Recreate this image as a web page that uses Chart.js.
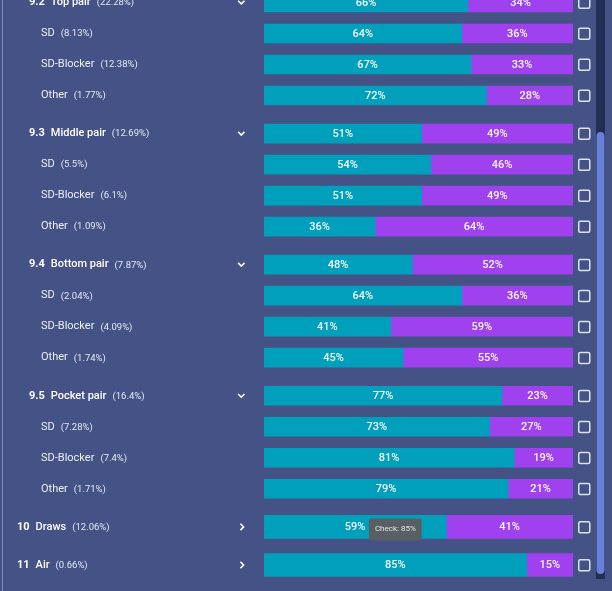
<!DOCTYPE html>
<html>
<head>
  <meta charset="UTF-8">
  <title>Range breakdown</title>
  <script src="https://cdn.jsdelivr.net/npm/chart.js"></script>
  <style>
    html, body {
      margin: 0;
      padding: 0;
      background: #445286;
      overflow: hidden;
    }

    #wrap {
      position: relative;
      width: 612px;
      height: 591px;
    }
  </style>
</head>
<body>
  <div id="wrap">
    <canvas id="rangeChart" width="612" height="591"></canvas>
  </div>

  <script>
    // rows, top to bottom
    const rowCodes  = ['9.2', '', '', '', '9.3', '', '', '', '9.4', '', '', '', '9.5', '', '', '', '10', '11'];
    const rowNames  = ['Top pair', 'SD', 'SD-Blocker', 'Other',
                       'Middle pair', 'SD', 'SD-Blocker', 'Other',
                       'Bottom pair', 'SD', 'SD-Blocker', 'Other',
                       'Pocket pair', 'SD', 'SD-Blocker', 'Other',
                       'Draws', 'Air'];
    // open = expanded group, sub = child row, closed = collapsed group
    const rowKinds  = ['open', 'sub', 'sub', 'sub',
                       'open', 'sub', 'sub', 'sub',
                       'open', 'sub', 'sub', 'sub',
                       'open', 'sub', 'sub', 'sub',
                       'closed', 'closed'];
    const rowShares = [22.28, 8.13, 12.38, 1.77, 12.69, 5.5, 6.1, 1.09, 7.87, 2.04, 4.09, 1.74, 16.4, 7.28, 7.4, 1.71, 12.06, 0.66];

    // series (percent of each row)
    const checkPct = [66, 64, 67, 72, 51, 54, 51, 36, 48, 64, 41, 45, 77, 73, 81, 79, 59, 85];
    const betPct   = [34, 36, 33, 28, 49, 46, 49, 64, 52, 36, 59, 55, 23, 27, 19, 21, 41, 15];

    const tooltipLabel = 'Check';
    const tooltipRow = 17;

    const BG = '#445286';
    const TEAL = '#00a0bd';
    const PURPLE = '#a041f0';
    const FONT = 'Roboto, "Noto Sans", sans-serif';

    // extra space before each group header, in row units
    const GROUP_GAP = 0.229;
    const rowPos = [];
    rowKinds.forEach((kind, i) => {
      rowPos.push(i === 0 ? 0 : rowPos[i - 1] + 1 + (kind === 'sub' ? 0 : GROUP_GAP));
    });

    function points(values, keep) {
      return values
        .map((v, i) => ({ x: v, y: rowPos[i], row: i }))
        .filter(p => keep(p.row));
    }
    const isThin = i => rowKinds[i] !== 'closed';
    const isWide = i => rowKinds[i] === 'closed';

    function chevronDown(ctx, cx, cy) {
      ctx.beginPath();
      ctx.moveTo(cx - 3.2, cy - 1.8);
      ctx.lineTo(cx, cy + 1.4);
      ctx.lineTo(cx + 3.2, cy - 1.8);
      ctx.stroke();
    }

    function chevronRight(ctx, cx, cy) {
      ctx.beginPath();
      ctx.moveTo(cx - 1.6, cy - 3.2);
      ctx.lineTo(cx + 1.6, cy);
      ctx.lineTo(cx - 1.6, cy + 3.2);
      ctx.stroke();
    }

    function roundRect(ctx, x, y, w, h, r) {
      ctx.beginPath();
      ctx.moveTo(x + r, y);
      ctx.arcTo(x + w, y, x + w, y + h, r);
      ctx.arcTo(x + w, y + h, x, y + h, r);
      ctx.arcTo(x, y + h, x, y, r);
      ctx.arcTo(x, y, x + w, y, r);
      ctx.closePath();
    }

    const rowDecor = {
      id: 'rowDecor',
      beforeDraw(chart) {
        const { ctx, width, height } = chart;
        ctx.save();
        ctx.fillStyle = BG;
        ctx.fillRect(0, 0, width, height);
        ctx.restore();
      },
      afterDatasetsDraw(chart) {
        const { ctx } = chart;
        ctx.save();
        ctx.font = '500 11px ' + FONT;
        ctx.fillStyle = '#f4f8fb';
        ctx.textAlign = 'center';
        ctx.textBaseline = 'middle';
        chart.data.datasets.forEach((ds, d) => {
          chart.getDatasetMeta(d).data.forEach((bar, j) => {
            const cx = (bar.x + bar.base) / 2;
            ctx.fillText(ds.data[j].x + '%', cx, bar.y + 0.5);
          });
        });
        ctx.restore();
      },
      afterDraw(chart) {
        const { ctx, scales } = chart;
        const yScale = scales.y;
        ctx.save();
        ctx.textBaseline = 'middle';
        ctx.textAlign = 'left';

        rowNames.forEach((name, i) => {
          const y = yScale.getPixelForValue(rowPos[i]);
          const kind = rowKinds[i];
          let x;
          if (kind === 'sub') {
            x = 41;
            ctx.font = '400 11px ' + FONT;
            ctx.fillStyle = '#eef0f7';
            ctx.fillText(name, x, y);
            x += ctx.measureText(name).width + 6;
          } else {
            x = kind === 'open' ? 29 : 17;
            ctx.font = '700 11px ' + FONT;
            ctx.fillStyle = '#ffffff';
            ctx.fillText(rowCodes[i], x, y);
            x += ctx.measureText(rowCodes[i]).width + 6;
            ctx.font = '500 11px ' + FONT;
            ctx.fillText(name, x, y);
            x += ctx.measureText(name).width + 6;
          }
          ctx.font = '400 9.5px ' + FONT;
          ctx.fillStyle = '#e6e9f3';
          ctx.fillText('(' + rowShares[i] + '%)', x, y + 0.5);

          // chevrons
          ctx.strokeStyle = '#ffffff';
          ctx.lineWidth = 1.6;
          if (kind === 'open') chevronDown(ctx, 241.3, y);
          if (kind === 'closed') chevronRight(ctx, 242, y);

          // checkbox
          ctx.strokeStyle = '#dfe3f0';
          ctx.lineWidth = 1.5;
          roundRect(ctx, 578.75, y - 5.25, 11, 11, 1.5);
          ctx.stroke();
        });

        // scrollbar
        ctx.fillStyle = '#1f2e52';
        ctx.fillRect(596, 0, 9, 579);
        ctx.fillStyle = '#6a80d8';
        roundRect(ctx, 596.5, 132, 8, 442, 4);
        ctx.fill();

        // left border
        ctx.fillStyle = 'rgba(150, 162, 205, 0.7)';
        ctx.fillRect(2, 0, 1, chart.height);

        // hover tooltip
        const meta = chart.getDatasetMeta(2);
        const idx = chart.data.datasets[2].data.findIndex(p => p.row === tooltipRow);
        const bar = meta.data[idx];
        const tx = (bar.x + bar.base) / 2;
        const text = tooltipLabel + ': ' + checkPct[tooltipRow] + '%';
        ctx.font = '400 8px ' + FONT;
        const tw = ctx.measureText(text).width + 12;
        const boxBottom = bar.y - 11.5 - 13;
        ctx.fillStyle = 'rgba(92, 94, 98, 0.96)';
        roundRect(ctx, tx - tw / 2, boxBottom - 22, tw, 22, 3);
        ctx.fill();
        ctx.fillStyle = '#e4e4e4';
        ctx.textAlign = 'center';
        ctx.fillText(text, tx, boxBottom - 11);
        ctx.restore();
      }
    };

    new Chart(document.getElementById('rangeChart'), {
      type: 'bar',
      data: {
        datasets: [
          { label: 'Check', data: points(checkPct, isThin), backgroundColor: TEAL, barThickness: 19 },
          { label: 'Bet', data: points(betPct, isThin), backgroundColor: PURPLE, barThickness: 19 },
          { label: 'Check', data: points(checkPct, isWide), backgroundColor: TEAL, barThickness: 23 },
          { label: 'Bet', data: points(betPct, isWide), backgroundColor: PURPLE, barThickness: 23 }
        ]
      },
      options: {
        responsive: false,
        animation: false,
        indexAxis: 'y',
        layout: { padding: { left: 264, right: 39, top: 0, bottom: 0 } },
        plugins: {
          legend: { display: false },
          tooltip: { enabled: false }
        },
        scales: {
          x: { type: 'linear', stacked: true, min: 0, max: 100, display: false },
          y: { type: 'linear', stacked: true, reverse: true, offset: false, min: -0.0806, max: 18.984, display: false }
        }
      },
      plugins: [rowDecor]
    });
  </script>
</body>
</html>
